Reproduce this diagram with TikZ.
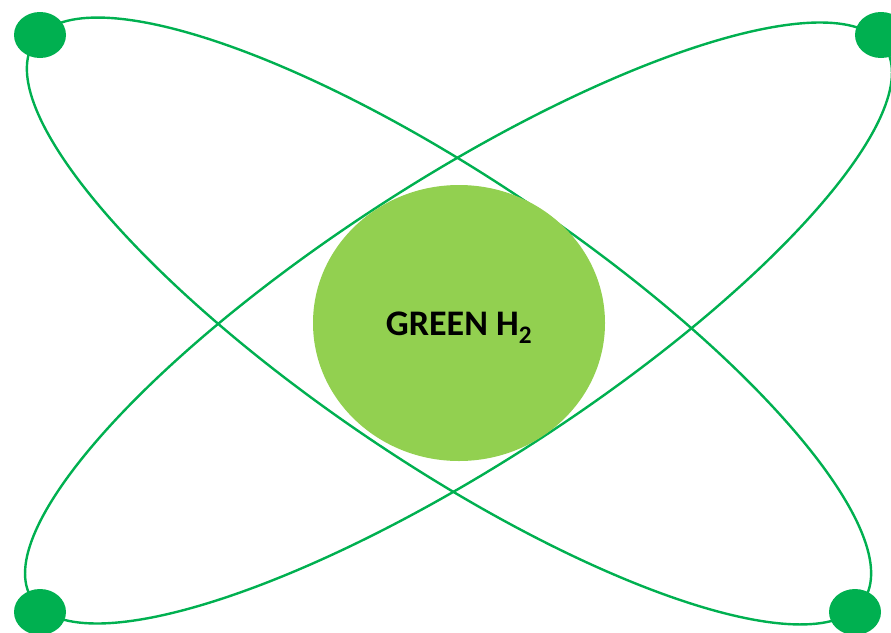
\documentclass[tikz,border=0pt]{standalone}
\usepackage{fontspec}
\setmainfont{Carlito}
\usetikzlibrary{shapes.geometric}
\definecolor{orbit}{HTML}{00B050}
\definecolor{core}{HTML}{92D050}
\tikzset{
  orbitline/.style={draw=orbit, line width=2.4pt},
  electron/.style={ellipse, fill=orbit, draw=none, minimum width=52pt, minimum height=46pt, inner sep=0pt},
  nucleus/.style={ellipse, fill=core, draw=none, minimum width=292pt, minimum height=276pt, inner sep=0pt},
  labeltext/.style={font=\fontsize{36}{42}\selectfont\bfseries, text=black, inner sep=0pt}
}
\begin{document}
\begin{tikzpicture}[x=1pt,y=-1pt]
\useasboundingbox (0,0) rectangle (891,632);
\draw[orbitline, rotate around={-34:(449,321)}] (449,321) ellipse [x radius=500, y radius=142];
\draw[orbitline, rotate around={32.9:(458.5,323)}] (458.5,323) ellipse [x radius=508, y radius=141.5];
\node[nucleus] (core) at (459,323) {};
\node[labeltext] (label) at (459,328) {GREEN H\textsubscript{2}};
\node[electron] (e1) at (40,35) {};
\node[electron] (e2) at (881,35) {};
\node[electron] (e3) at (40,612) {};
\node[electron] (e4) at (855,612) {};
\end{tikzpicture}
\end{document}
